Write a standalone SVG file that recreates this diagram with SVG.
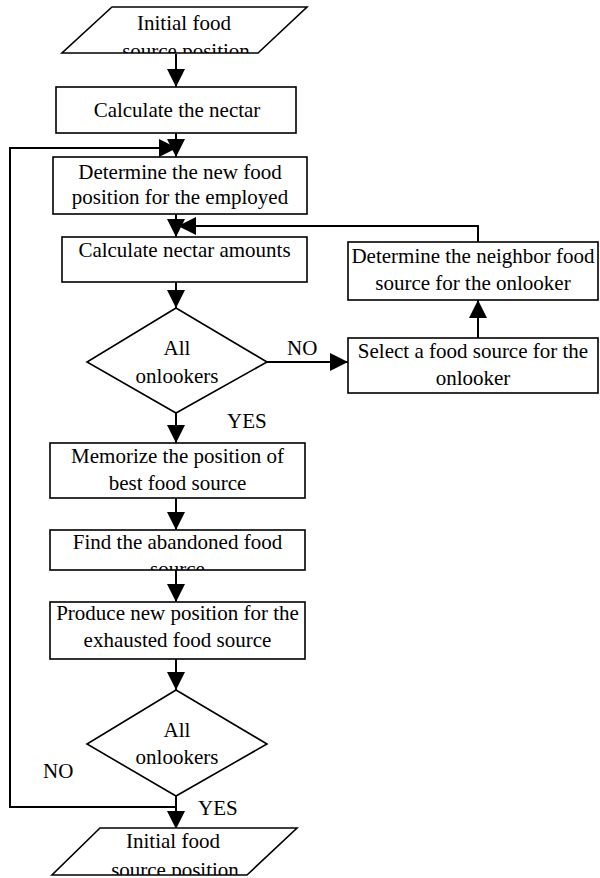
<svg xmlns="http://www.w3.org/2000/svg" width="600" height="878" viewBox="0 0 600 878">
<style>
.s{fill:#fff;stroke:#000;stroke-width:1.6}
.t{font-family:"Liberation Serif","Times New Roman",serif;font-size:21px;fill:#000;text-anchor:middle}
.l{font-family:"Liberation Serif","Times New Roman",serif;font-size:21px;fill:#000}
.c{fill:none;stroke:#000;stroke-width:2}
</style>
<defs>
<marker id="ah" viewBox="0 0 18 18" refX="18" refY="9" markerWidth="18" markerHeight="18" markerUnits="userSpaceOnUse" orient="auto">
<path d="M0,0 L18,9 L0,18 z" fill="#000"/>
</marker>
<clipPath id="cp1"><rect x="0" y="0" width="600" height="53"/></clipPath>
<clipPath id="cp2"><rect x="0" y="520" width="600" height="50"/></clipPath>
<clipPath id="cp3"><rect x="0" y="820" width="600" height="55"/></clipPath>
</defs>
<rect width="600" height="878" fill="#fff"/>
<g id="connectors">
<path class="c" d="M176,54 V87" marker-end="url(#ah)"/>
<path class="c" d="M176,133 V157" marker-end="url(#ah)"/>
<path class="c" d="M176,807 H10 V148 H177" marker-end="url(#ah)"/>
<path class="c" d="M176,214 V237" marker-end="url(#ah)"/>
<path class="c" d="M478,242 V226 H178" marker-end="url(#ah)"/>
<path class="c" d="M176,282 V308" marker-end="url(#ah)"/>
<path class="c" d="M267,362 H348" marker-end="url(#ah)"/>
<path class="c" d="M478,338 V300" marker-end="url(#ah)"/>
<path class="c" d="M176,413 V443" marker-end="url(#ah)"/>
<path class="c" d="M176,498 V530" marker-end="url(#ah)"/>
<path class="c" d="M176,570 V602" marker-end="url(#ah)"/>
<path class="c" d="M176,659 V690" marker-end="url(#ah)"/>
<path class="c" d="M176,796 V829" marker-end="url(#ah)"/>
</g>
<g id="start">
<polygon class="s" points="112,7 307,7 258,53 62,53"/>
<text class="t" x="184" y="30">Initial food</text>
<text class="t" x="186" y="58" clip-path="url(#cp1)">source position</text>
</g>
<g id="calc-nectar">
<rect class="s" x="56" y="87" width="240" height="46"/>
<text class="t" x="177" y="117">Calculate the nectar</text>
</g>
<g id="determine-new">
<rect class="s" x="53" y="157" width="254" height="57"/>
<text class="t" x="180" y="179">Determine the new food</text>
<text class="t" x="180" y="204">position for the employed</text>
</g>
<g id="calc-amounts">
<rect class="s" x="62" y="237" width="245" height="45"/>
<text class="t" x="184.5" y="257">Calculate nectar amounts</text>
</g>
<g id="neighbor">
<rect class="s" x="348" y="242" width="250" height="58"/>
<text class="t" x="473" y="263">Determine the neighbor food</text>
<text class="t" x="473" y="290">source for the onlooker</text>
</g>
<g id="select">
<rect class="s" x="348" y="338" width="250" height="55"/>
<text class="t" x="473" y="358">Select a food source for the</text>
<text class="t" x="473" y="385">onlooker</text>
</g>
<g id="decision1">
<polygon class="s" points="176,308 267,362 176,413 87,362"/>
<text class="t" x="177" y="355">All</text>
<text class="t" x="177" y="383">onlookers</text>
</g>
<g id="memorize">
<rect class="s" x="50" y="443" width="255" height="55"/>
<text class="t" x="177.5" y="463">Memorize the position of</text>
<text class="t" x="177.5" y="490">best food source</text>
</g>
<g id="find">
<rect class="s" x="50" y="530" width="255" height="40"/>
<text class="t" x="177.5" y="549">Find the abandoned food</text>
<text class="t" x="177.5" y="576" clip-path="url(#cp2)">source</text>
</g>
<g id="produce">
<rect class="s" x="50" y="602" width="255" height="57"/>
<text class="t" x="177.5" y="620">Produce new position for the</text>
<text class="t" x="177.5" y="647">exhausted food source</text>
</g>
<g id="decision2">
<polygon class="s" points="176,690 267,744 176,796 87,744"/>
<text class="t" x="177" y="737">All</text>
<text class="t" x="177" y="764">onlookers</text>
</g>
<g id="end">
<polygon class="s" points="100,828 297,828 247,875 52,875"/>
<text class="t" x="173" y="848">Initial food</text>
<text class="t" x="175" y="877" clip-path="url(#cp3)">source position</text>
</g>
<g id="labels">
<text class="l" x="287" y="355">NO</text>
<text class="l" x="227" y="428">YES</text>
<text class="l" x="43" y="778">NO</text>
<text class="l" x="198" y="815">YES</text>
</g>
</svg>
